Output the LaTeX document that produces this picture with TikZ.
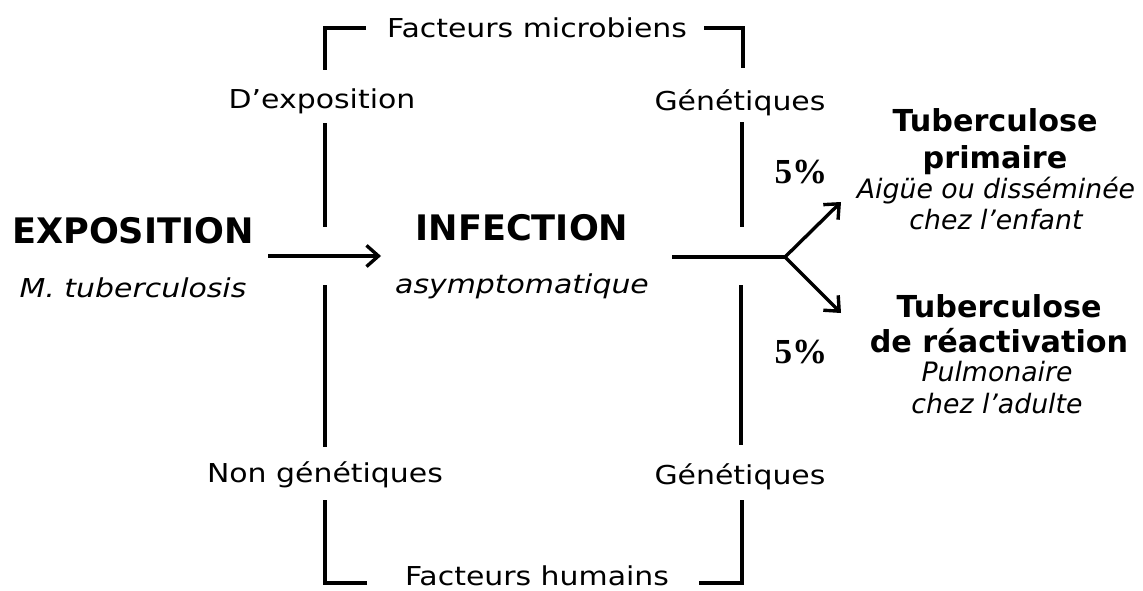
\documentclass[tikz,border=0pt]{standalone}
\usepackage{fontspec}
\setmainfont{DejaVu Sans}
\newfontfamily\labfont{DejaVu Sans}[FakeStretch=1.15]
\newfontfamily\pctfont{Liberation Serif}
\usetikzlibrary{arrows.meta}

\begin{document}
\begin{tikzpicture}[
    x=0.025cm, y=-0.025cm,
    lab/.style={font=\labfont\fontsize{18.5}{22}\selectfont, inner sep=0pt, anchor=base},
    sub/.style={font=\labfont\itshape\fontsize{18.5}{22}\selectfont, inner sep=0pt, anchor=base},
    head/.style={font=\bfseries\fontsize{25}{30}\selectfont, inner sep=0pt, anchor=base},
    outhead/.style={font=\bfseries\fontsize{21.5}{26}\selectfont, inner sep=0pt, anchor=base},
    outsub/.style={font=\itshape\fontsize{19}{23}\selectfont, inner sep=0pt, anchor=base},
    pct/.style={font=\pctfont\bfseries\fontsize{25}{30}\selectfont, inner sep=0pt, anchor=base},
    bar/.style={line width=3pt},
    arr/.style={line width=2.4pt, -{Straight Barb[length=8.5pt,width=15pt,line width=2.4pt]}},
]
\useasboundingbox (0,0) rectangle (1143,591);

% Stages
\node[head] (expo) at (133,243) {EXPOSITION};
\node[sub] (mtb) at (133,297) {M. tuberculosis};
\node[head] (inf) at (522,240) {INFECTION};
\node[sub] (asym) at (522,293) {asymptomatique};

% Outcomes
\node[outhead] (prim) at (995,132) {Tuberculose};
\node[outhead] (primb) at (995,168) {primaire};
\node[outsub] (prims) at (996,198) {Aigüe ou disséminée};
\node[outsub] (primsb) at (996,229) {chez l’enfant};
\node[outhead] (react) at (999,317) {Tuberculose};
\node[outhead] (reactb) at (999,352) {de réactivation};
\node[outsub] (reacts) at (997,381) {Pulmonaire};
\node[outsub] (reactsb) at (997,413) {chez l’adulte};
\node[pct] (pa) at (801,183) {5\%};
\node[pct] (pb) at (801,363) {5\%};

% Factors
\node[lab] (micro) at (537,38) {Facteurs microbiens};
\node[lab] (hum) at (537,585) {Facteurs humains};
\node[lab] (dexp) at (322,108) {D’exposition};
\node[lab] (genA) at (740,110) {Génétiques};
\node[lab] (nongen) at (325,482) {Non génétiques};
\node[lab] (genB) at (740,484) {Génétiques};

% Brackets
\coordinate (mwl) at (366,28);
\coordinate (mtl) at (325,28);
\coordinate (mbl) at (325,70);
\coordinate (mwr) at (704,28);
\coordinate (mtr) at (743,28);
\coordinate (mbr) at (743,68);
\coordinate (hwl) at (367,583);
\coordinate (hbl) at (325,583);
\coordinate (htl) at (325,500);
\coordinate (hwr) at (699,583);
\coordinate (hbr) at (742,583);
\coordinate (htr) at (742,500);
\draw[bar] (mwl) -- (mtl) -- (mbl);
\draw[bar] (mwr) -- (mtr) -- (mbr);
\draw[bar] (hwl) -- (hbl) -- (htl);
\draw[bar] (hwr) -- (hbr) -- (htr);

% Vertical bars
\foreach \x/\ya/\yb in {325/123/227, 742/122/227, 325/285/447, 741/285/445} {
    \draw[bar] (\x,\ya) -- (\x,\yb);
}

% Arrows
\coordinate (ea) at (268,256);
\coordinate (eb) at (381,256);
\coordinate (ia) at (672,257);
\coordinate (fork) at (785,257);
\coordinate (fa) at (841,202);
\coordinate (fb) at (841,313);
\draw[arr] (ea) -- (eb);
\draw[bar] (ia) -- (fork);
\draw[arr] (fork) -- (fa);
\draw[arr] (fork) -- (fb);

\end{tikzpicture}
\end{document}
